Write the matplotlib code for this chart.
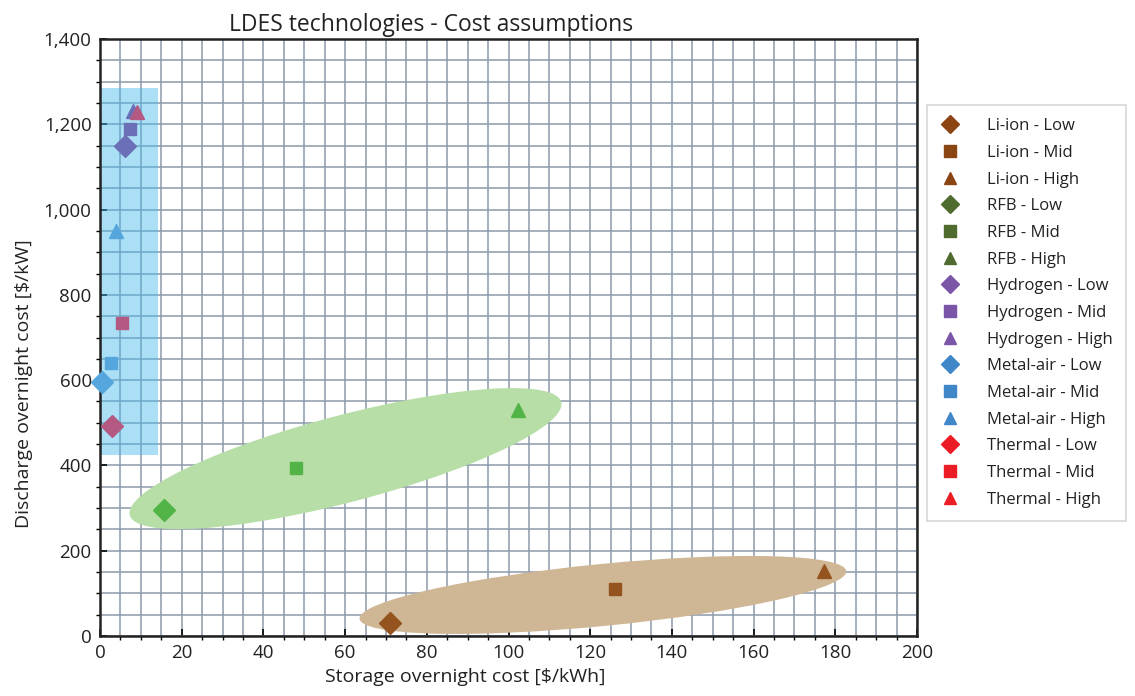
import matplotlib
matplotlib.use("Agg")
import matplotlib.pyplot as plt
from matplotlib.patches import Ellipse, Rectangle
from matplotlib.lines import Line2D
from matplotlib.transforms import ScaledTranslation
from matplotlib.ticker import MultipleLocator, FuncFormatter

plt.rcParams['font.family'] = ['Open Sans', 'DejaVu Sans']

# data: storage cost [$/kWh], discharge cost [$/kW]
techs = ["Li-ion", "RFB", "Hydrogen", "Metal-air", "Thermal"]
cases = ["Low", "Mid", "High"]
li_ion_x = [71.0, 126.1, 177.2]
li_ion_y = [31, 110, 153]
rfb_x = [15.7, 48.1, 102.4]
rfb_y = [296, 395, 529]
hydrogen_x = [6.1, 7.3, 8.2]
hydrogen_y = [1149, 1188, 1230]
metal_air_x = [0.4, 2.6, 3.8]
metal_air_y = [596, 641, 949]
thermal_x = [3.0, 5.5, 9.1]
thermal_y = [493, 735, 1228]

xs = [li_ion_x, rfb_x, hydrogen_x, metal_air_x, thermal_x]
ys = [li_ion_y, rfb_y, hydrogen_y, metal_air_y, thermal_y]
legend_colors = ["#8b4513", "#4f6b2e", "#7b55a8", "#3f87c8", "#ec1c24"]
plot_colors = ["#94531f", "#52b447", "#6a6fb8", "#55a6dc", "#b45a82"]
markers = ["D", "s", "^"]
msizes = [11, 9, 9.5]
leg_sizes = [9.5, 8, 8.5]

fig = plt.figure(figsize=(11.35, 6.96), dpi=100)
ax = fig.add_axes([100 / 1135, 1 - 636 / 696, 817 / 1135, 597 / 696])
ax.set_xlim(0, 200)
ax.set_ylim(0, 1400)

ax.xaxis.set_major_locator(MultipleLocator(20))
ax.xaxis.set_minor_locator(MultipleLocator(5))
ax.yaxis.set_major_locator(MultipleLocator(200))
ax.yaxis.set_minor_locator(MultipleLocator(50))
ax.yaxis.set_major_formatter(FuncFormatter(lambda v, p: f"{int(v):,}"))
ax.grid(which="both", color="#8d9aab", lw=1.1, zorder=0)
ax.set_axisbelow(True)
ax.tick_params(which="major", direction="in", length=5, width=1.2, labelsize=13.5, pad=6,
               labelcolor="#222222")
ax.tick_params(which="minor", direction="out", length=3, width=1)
for s in ax.spines.values():
    s.set_linewidth(1.8)
    s.set_color("#222222")

# highlighted groups
ell_tr = fig.dpi_scale_trans
brown = Ellipse((0, 0), 4.89, 0.62, angle=5.6, color="#cfb796", lw=0, zorder=1,
                transform=ell_tr + ScaledTranslation(123.1, 96.3, ax.transData))
green = Ellipse((0, 0), 4.46, 0.87, angle=14.7, color="#b7dea6", lw=0, zorder=1,
                transform=ell_tr + ScaledTranslation(60.1, 416, ax.transData))
blue = Rectangle((0, 425), 14.3, 860, color="#45b8ec", alpha=0.45, lw=0, zorder=1)
ax.add_patch(brown)
ax.add_patch(green)
ax.add_patch(blue)

for t in range(len(techs)):
    for c in range(3):
        ax.plot(xs[t][c], ys[t][c], marker=markers[c], ms=msizes[c], color=plot_colors[t],
                ls="none", zorder=3, clip_on=False)

ax.set_title("LDES technologies - Cost assumptions", fontsize=16.5, pad=6, color="#222222",
             x=0.405)
ax.set_xlabel("Storage overnight cost [$/kWh]", fontsize=14, labelpad=4, color="#222222",
              x=0.447)
ax.set_ylabel("Discharge overnight cost [$/kW]", fontsize=14, labelpad=8, color="#222222",
              y=0.422)

handles = []
for t in range(len(techs)):
    for c in range(3):
        handles.append(Line2D([], [], marker=markers[c], ms=leg_sizes[c], ls="none",
                              color=legend_colors[t], label=f"{techs[t]} - {cases[c]}"))
leg = fig.legend(handles=handles, loc="upper left", bbox_to_anchor=(927 / 1135, 1 - 105 / 696),
                 frameon=True, fontsize=12, labelspacing=0.64, handletextpad=1.6,
                 borderpad=0.8, borderaxespad=0, handlelength=1.2, fancybox=False)
leg.get_frame().set_edgecolor("#cccccc")
leg.get_frame().set_linewidth(1.2)
for txt in leg.get_texts():
    txt.set_color("#222222")

fig.savefig("out.png", dpi=100)
